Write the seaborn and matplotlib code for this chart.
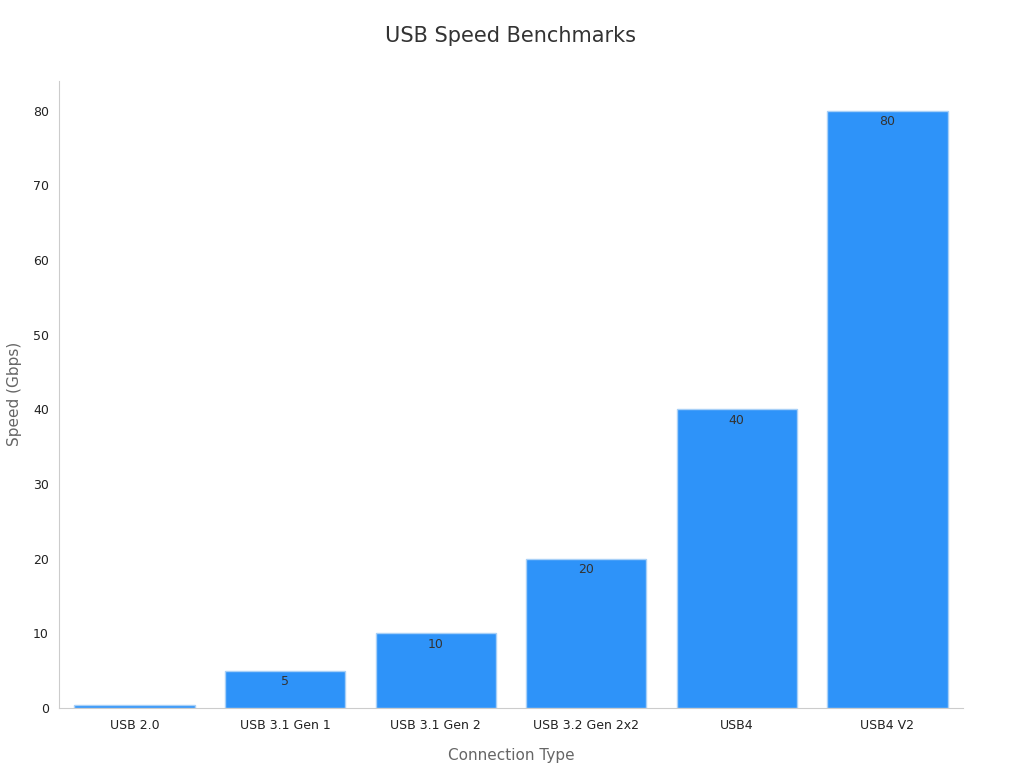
import matplotlib
matplotlib.use('Agg')
import matplotlib.pyplot as plt
import seaborn as sns
import pandas as pd

connection_types = ["USB 2.0", "USB 3.1 Gen 1", "USB 3.1 Gen 2", "USB 3.2 Gen 2x2", "USB4", "USB4 V2"]
speeds = [0.48, 5, 10, 20, 40, 80]
bar_labels = ["0.48", "5", "10", "20", "40", "80"]

df = pd.DataFrame({"Connection Type": connection_types, "Speed (Gbps)": speeds})

sns.set_style("white")
fig, ax = plt.subplots(figsize=(10.24, 7.68), dpi=100)
sns.barplot(data=df, x="Connection Type", y="Speed (Gbps)", color="#2E93F9",
            saturation=1, width=0.8, edgecolor="#a8d0f7", linewidth=1, ax=ax)
for p, lab in zip(ax.patches, bar_labels):
    ax.text(p.get_x() + p.get_width() / 2, p.get_height() - 0.6, lab,
            ha="center", va="top", fontsize=9, color="#333333", clip_on=True)

ax.set_ylim(0, 84)
ax.set_xlim(-0.5, 5.5)
ax.set_yticks(range(0, 81, 10))
ax.tick_params(axis="both", labelsize=9, length=4, colors="#999999", labelcolor="#222222")
ax.set_xlabel("Connection Type", fontsize=11, color="#666666", labelpad=12)
ax.set_ylabel("Speed (Gbps)", fontsize=11, color="#666666", labelpad=8)
ax.set_title("USB Speed Benchmarks", fontsize=15, color="#333333", pad=28)
sns.despine(ax=ax)
for s in ["left", "bottom"]:
    ax.spines[s].set_color("#cccccc")

plt.subplots_adjust(left=0.058, right=0.94, top=0.895, bottom=0.078)
plt.savefig("out.png", dpi=100)
